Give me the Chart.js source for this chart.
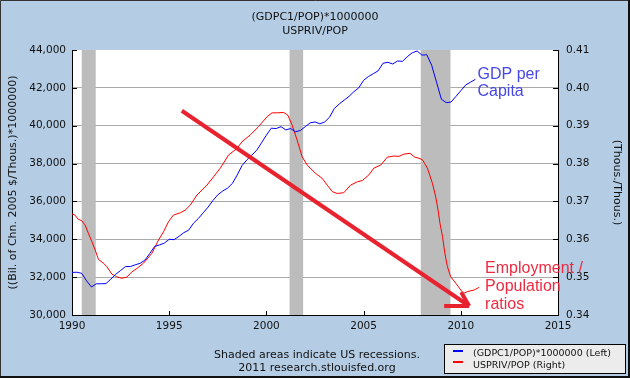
<!DOCTYPE html>
<html><head><meta charset="utf-8">
<script src="https://cdn.jsdelivr.net/npm/chart.js@4"></script>
<style>html,body{margin:0;padding:0;background:#b4cde4;overflow:hidden}canvas{display:block}</style>
</head><body><canvas id="c" width="630" height="378"></canvas>
<script>
const titleLines = ['(GDPC1/POP)*1000000', 'USPRIV/POP'];
const leftAxisTitle = '((Bil. of Chn. 2005 $/Thous.)*1000000)';
const rightAxisTitle = '(Thous./Thous.)';
const noteLines = ['Shaded areas indicate US recessions.', '2011 research.stlouisfed.org'];
const legendLabels = ['(GDPC1/POP)*1000000 (Left)', 'USPRIV/POP (Right)'];
const gdpLabel = ['GDP per', 'Capita'];
const empLabel = ['Employment /', 'Population', 'ratios'];

// Quarterly real GDP per capita, 1990 Q1 .. 2010 Q4
const gdpStartYear = 1990;
const gdpValues = [
  32250, 32260, 32200, 31800,
  31480, 31650, 31650, 31660,
  31900, 32150, 32350, 32560,
  32560, 32650, 32730, 32900,
  33250, 33620, 33700, 33800,
  34000, 33980, 34150, 34350,
  34480, 34850, 35100, 35400,
  35700, 36050, 36350, 36550,
  36700, 36950, 37400, 37900,
  38200, 38450, 38700, 39100,
  39500, 39870, 39850, 39950,
  39780, 39850, 39680, 39750,
  39950, 40150, 40200, 40100,
  40200, 40450, 40920, 41150,
  41350, 41550, 41800, 42000,
  42400, 42600, 42750, 42900,
  43300, 43350, 43260, 43420,
  43400, 43650, 43850, 43950,
  43730, 43750, 43200, 42300,
  41400, 41220, 41250, 41550,
  41850, 42150, 42300, 42450
];

// Private employment / population
const empYears = [1990.0,1990.15,1990.32,1990.5,1990.67,1990.84,1991.02,1991.19,1991.36,1991.61,1991.79,1992.05,1992.3,1992.56,1992.82,1993.08,1993.34,1993.68,1994.11,1994.45,1994.71,1994.96,1995.22,1995.57,1995.82,1996.08,1996.43,1996.94,1997.28,1997.63,1998.06,1998.49,1998.75,1999.18,1999.6,2000.04,2000.29,2000.55,2000.89,2001.1,2001.32,2001.58,2001.84,2002.1,2002.53,2002.87,2003.13,2003.39,2003.64,2003.98,2004.33,2004.68,2004.93,2005.27,2005.53,2005.88,2006.22,2006.56,2006.82,2007.08,2007.39,2007.63,2007.85,2008.03,2008.28,2008.54,2008.71,2008.83,2008.93,2009.06,2009.18,2009.31,2009.48,2009.74,2010.0,2010.14,2010.35,2010.69,2010.94];
const empValues = [0.3667,0.3664,0.3653,0.3649,0.3638,0.3616,0.3594,0.3572,0.3547,0.3537,0.3528,0.3508,0.3501,0.3497,0.3500,0.3514,0.3523,0.3537,0.3563,0.3598,0.3620,0.3646,0.3664,0.3670,0.3677,0.3690,0.3717,0.3743,0.3765,0.3788,0.3823,0.3840,0.3858,0.3876,0.3898,0.3924,0.3934,0.3934,0.3935,0.3928,0.3902,0.3862,0.3818,0.3796,0.3774,0.3761,0.3743,0.3726,0.3721,0.3723,0.3743,0.3752,0.3755,0.3770,0.3788,0.3796,0.3817,0.3820,0.3819,0.3825,0.3827,0.3817,0.3814,0.3810,0.3788,0.3748,0.3712,0.3677,0.3642,0.3607,0.3563,0.3528,0.3501,0.3484,0.3466,0.3457,0.3462,0.3466,0.3473];

// Recessions
const recStart = [1990.5, 2001.19, 2007.94];
const recEnd   = [1991.22, 2001.89, 2009.47];

// Arrow annotation (data units: year, left-axis value)
const arrowFrom = [1995.65, 40790];
const arrowTo   = [2010.43, 30475];
// Label anchors (data units)
const gdpLabelAt = [2010.86, 42450];   // left axis
const empLabelAt = [2011.25, 0.3512];  // right axis

const BG = '#b4cde4';
const FONT = '"DejaVu Sans", sans-serif';

const gdpPoints = gdpValues.map((v, i) => ({x: gdpStartYear + i / 4, y: v}));
const empPoints = empValues.map((v, i) => ({x: empYears[i], y: v}));

const deco = {
  id: 'deco',
  beforeDraw(chart) {
    const {ctx, chartArea: a} = chart;
    ctx.save();
    ctx.fillStyle = BG; ctx.fillRect(0, 0, chart.width, chart.height);
    ctx.fillStyle = '#fff'; ctx.fillRect(a.left, a.top, a.right - a.left, a.bottom - a.top);
    ctx.restore();
  },
  beforeDatasetsDraw(chart) {
    const {ctx, chartArea: a, scales: {x}} = chart;
    ctx.save(); ctx.fillStyle = '#bcbcbc';
    recStart.forEach((s, i) => {
      const x0 = x.getPixelForValue(s), x1 = x.getPixelForValue(recEnd[i]);
      ctx.fillRect(x0, a.top, x1 - x0, a.bottom - a.top);
    });
    ctx.restore();
  },
  afterDraw(chart) {
    const {ctx, chartArea: a, scales: {x, y, y1}} = chart;
    ctx.save();
    // inward ticks
    ctx.strokeStyle = '#000'; ctx.lineWidth = 1;
    ctx.beginPath();
    y.ticks.forEach(t => { const p = Math.round(y.getPixelForValue(t.value)) + 0.5; ctx.moveTo(a.left, p); ctx.lineTo(a.left + 5, p); });
    y1.ticks.forEach(t => { const p = Math.round(y1.getPixelForValue(t.value)) + 0.5; ctx.moveTo(a.right, p); ctx.lineTo(a.right - 5, p); });
    x.ticks.forEach(t => { const p = Math.round(x.getPixelForValue(t.value)) + 0.5; ctx.moveTo(p, a.bottom); ctx.lineTo(p, a.bottom - 4); });
    ctx.stroke();

    // arrow
    const ax0 = x.getPixelForValue(arrowFrom[0]), ay0 = y.getPixelForValue(arrowFrom[1]);
    const ax1 = x.getPixelForValue(arrowTo[0]), ay1 = y.getPixelForValue(arrowTo[1]);
    ctx.strokeStyle = '#e8222e'; ctx.lineWidth = 4; ctx.lineCap = 'butt';
    ctx.beginPath(); ctx.moveTo(ax0, ay0); ctx.lineTo(ax1, ay1); ctx.stroke();
    const ang = Math.atan2(ay1 - ay0, ax1 - ax0);
    ctx.beginPath();
    ctx.moveTo(ax1, ay1); ctx.lineTo(ax1 - 25 * Math.cos(ang - 0.6), ay1 - 25 * Math.sin(ang - 0.6));
    ctx.moveTo(ax1, ay1); ctx.lineTo(ax1 - 16 * Math.cos(ang + 0.45), ay1 - 16 * Math.sin(ang + 0.45));
    ctx.stroke();

    // annotation labels
    ctx.textAlign = 'left'; ctx.textBaseline = 'alphabetic';
    ctx.font = '16px "Liberation Sans", Arial, sans-serif';
    ctx.fillStyle = '#4848e4';
    const gx = x.getPixelForValue(gdpLabelAt[0]), gy = y.getPixelForValue(gdpLabelAt[1]);
    gdpLabel.forEach((s, i) => ctx.fillText(s, gx, gy + i * 17));
    ctx.fillStyle = '#ee2a40';
    const ex = x.getPixelForValue(empLabelAt[0]), ey = y1.getPixelForValue(empLabelAt[1]);
    empLabel.forEach((s, i) => ctx.fillText(s, ex, ey + i * 18.2));

    // title
    ctx.fillStyle = '#111'; ctx.textAlign = 'center'; ctx.textBaseline = 'middle';
    ctx.font = '11px ' + FONT;
    ctx.fillText(titleLines[0], chart.width / 2, 17);
    ctx.fillText(titleLines[1], chart.width / 2, 31);
    // note
    ctx.fillText(noteLines[0], 317, 355);
    ctx.fillText(noteLines[1], 317, 368);

    // legend
    ctx.fillStyle = '#ececec'; ctx.fillRect(444.5, 344.5, 181, 29);
    ctx.strokeStyle = '#000'; ctx.lineWidth = 1; ctx.strokeRect(444.5, 344.5, 181, 29);
    ctx.lineWidth = 2;
    ctx.strokeStyle = '#0000ff'; ctx.beginPath(); ctx.moveTo(453, 351); ctx.lineTo(463, 351); ctx.stroke();
    ctx.strokeStyle = '#ff0000'; ctx.beginPath(); ctx.moveTo(453, 362); ctx.lineTo(463, 362); ctx.stroke();
    ctx.fillStyle = '#111'; ctx.textAlign = 'left';
    ctx.font = '9.5px ' + FONT;
    ctx.fillText(legendLabels[0], 473, 353.5);
    ctx.fillText(legendLabels[1], 473, 365.5);

    // frame
    ctx.strokeStyle = '#333'; ctx.lineWidth = 1;
    ctx.beginPath(); ctx.moveTo(0.5, 378); ctx.lineTo(0.5, 0.5); ctx.lineTo(630, 0.5); ctx.stroke();
    ctx.fillStyle = '#111';
    ctx.fillRect(628, 0, 2, 378); ctx.fillRect(0, 376, 630, 2);
    ctx.restore();
  }
};

new Chart(document.getElementById('c'), {
  type: 'line',
  data: {
    datasets: [
      {label: legendLabels[0], data: gdpPoints, yAxisID: 'y', borderColor: '#0000ff', borderWidth: 1, pointRadius: 0, tension: 0},
      {label: legendLabels[1], data: empPoints, yAxisID: 'y1', borderColor: '#ff0000', borderWidth: 1, pointRadius: 0, tension: 0}
    ]
  },
  options: {
    responsive: false, animation: false, devicePixelRatio: 1,
    layout: {padding: {top: 50, left: 0, right: 0, bottom: 0}},
    plugins: {legend: {display: false}, tooltip: {enabled: false}},
    scales: {
      x: {
        type: 'linear', min: 1990, max: 2015,
        ticks: {stepSize: 5, color: '#111', font: {family: FONT, size: 10.5}, padding: 5, callback: v => String(v), maxRotation: 0},
        grid: {display: false, drawTicks: false},
        border: {display: true, color: '#000', width: 1},
        afterFit: s => { s.height = 63; }
      },
      y: {
        position: 'left', min: 30000, max: 44000,
        ticks: {stepSize: 2000, color: '#111', font: {family: FONT, size: 10.5}, padding: 6},
        grid: {drawTicks: false, color: c => (c.tick && (c.tick.value === 30000 || c.tick.value === 44000)) ? 'rgba(0,0,0,0)' : '#aaaaaa'},
        border: {display: true, color: '#000', width: 1},
        title: {display: true, text: leftAxisTitle, color: '#111', font: {family: FONT, size: 11}, padding: {top: 7, bottom: 0}},
        afterFit: s => { s.width = 72; }
      },
      y1: {
        position: 'right', min: 0.34, max: 0.41,
        ticks: {stepSize: 0.01, color: '#111', font: {family: FONT, size: 10.5}, padding: 8, callback: v => Number(v).toFixed(2)},
        grid: {display: false, drawTicks: false},
        border: {display: true, color: '#000', width: 1},
        title: {display: true, text: rightAxisTitle, color: '#111', font: {family: FONT, size: 11}, padding: {top: 7, bottom: 0}},
        afterFit: s => { s.width = 72; }
      }
    }
  },
  plugins: [deco]
});
</script>
</body></html>
